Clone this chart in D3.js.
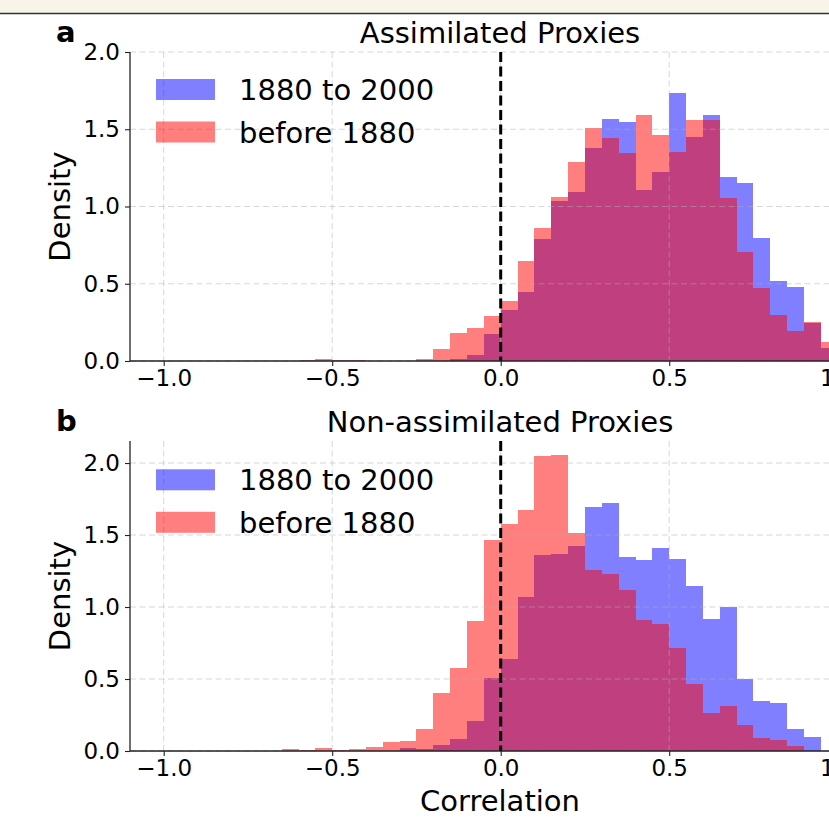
<!DOCTYPE html>
<html>
<head>
  <meta charset="utf-8" />
  <title>Proxy correlations</title>
  <style type="text/css">
    html, body { margin: 0; background: #ffffff; }
    svg { display: block; font-family: "DejaVu Sans", sans-serif; }
  </style>
</head>
<body>
<div id="container"></div>
<script src="https://cdn.jsdelivr.net/npm/d3@7"></script>
<script>
// histogram bins: left edges from -1.0 in steps of 0.05 (40 bins)
var binStart = -1.0;
var binWidth = 0.05;

var seriesNames = ["1880 to 2000", "before 1880"];
var panelTitles = ["Assimilated Proxies", "Non-assimilated Proxies"];
var panelLetters = ["a", "b"];
var xTicks = [-1.0, -0.5, 0.0, 0.5, 1.0];
var yTicks = [0.0, 0.5, 1.0, 1.5, 2.0];

// panel a, density per bin
var assimRecent = [
  0, 0, 0, 0, 0, 0, 0, 0, 0, 0,
  0, 0, 0, 0, 0, 0, 0, 0.013, 0.039, 0.175,
  0.330, 0.447, 0.790, 1.036, 1.094, 1.379, 1.566, 1.547, 1.107, 1.223,
  1.735, 1.450, 1.592, 1.191, 1.152, 0.796, 0.518, 0.479, 0.246, 0.084
];
var assimEarly = [
  0, 0, 0, 0, 0, 0, 0, 0, 0.005, 0.013,
  0.007, 0.007, 0, 0, 0, 0.013, 0.078, 0.181, 0.213, 0.291,
  0.388, 0.647, 0.861, 1.061, 1.288, 1.508, 1.443, 1.346, 1.592, 1.463,
  1.353, 1.560, 1.560, 1.055, 0.705, 0.472, 0.298, 0.194, 0.252, 0.123
];

// panel b, density per bin
var nonAssimRecent = [
  0, 0, 0, 0, 0, 0, 0, 0, 0, 0,
  0, 0, 0, 0, 0.021, 0.014, 0.042, 0.083, 0.208, 0.507,
  0.639, 1.069, 1.361, 1.368, 1.424, 1.694, 1.722, 1.347, 1.326, 1.410,
  1.333, 1.146, 0.917, 1.000, 0.500, 0.347, 0.333, 0.152, 0.096, 0
];
var nonAssimEarly = [
  0, 0, 0, 0, 0, 0, 0, 0.014, 0.007, 0.021,
  0.007, 0.014, 0.028, 0.062, 0.069, 0.153, 0.403, 0.576, 0.903, 1.468,
  1.576, 1.674, 2.049, 2.056, 1.514, 1.257, 1.229, 1.118, 0.910, 0.882,
  0.715, 0.465, 0.264, 0.310, 0.180, 0.089, 0.075, 0.033, 0, 0
];

var yTop = [2.0, 2.153];

var W = 829, H = 817;
var svg = d3.select("#container").append("svg")
    .attr("width", W).attr("height", H);

// page header strip
svg.append("rect").attr("x", 0).attr("y", 0).attr("width", W).attr("height", 13)
    .attr("fill", "#f8f4e9");
svg.append("line").attr("x1", 0).attr("x2", W).attr("y1", 13.5).attr("y2", 13.5)
    .attr("stroke", "#333").attr("stroke-width", 1.6);

var x = d3.scaleLinear().domain([-1.1, 1.1]).range([130, 871.4]);
var fmt = d3.format(".1f");
var colors = ["#0000ff", "#ff0000"];

function drawPanel(idx, top, bottom, recent, early, legendY) {
  var g = svg.append("g");
  var y = d3.scaleLinear().domain([0, yTop[idx]]).range([bottom, top]);

  [recent, early].forEach(function(vals, s) {
    g.append("g").selectAll("rect")
      .data(vals)
      .enter().append("rect")
        .attr("x", function(d, i) { return x(binStart + i * binWidth); })
        .attr("width", function(d, i) { return x(binStart + (i + 1) * binWidth) - x(binStart + i * binWidth); })
        .attr("y", function(d) { return y(d); })
        .attr("height", function(d) { return bottom - y(d); })
        .attr("fill", colors[s])
        .attr("fill-opacity", 0.5)
        .attr("shape-rendering", "crispEdges");
  });

  // grid
  var grid = g.append("g").attr("stroke", "#b0b0b0").attr("stroke-opacity", 0.5)
      .attr("stroke-width", 1).attr("stroke-dasharray", "6,3.5");
  grid.selectAll(".gx").data(xTicks).enter().append("line")
      .attr("x1", function(d) { return x(d); }).attr("x2", function(d) { return x(d); })
      .attr("y1", top).attr("y2", bottom);
  grid.selectAll(".gy").data(yTicks).enter().append("line")
      .attr("x1", x(-1.1)).attr("x2", W)
      .attr("y1", function(d) { return y(d); }).attr("y2", function(d) { return y(d); });

  // zero line
  g.append("line")
      .attr("x1", x(0)).attr("x2", x(0)).attr("y1", top).attr("y2", bottom)
      .attr("stroke", "#000").attr("stroke-width", 3).attr("stroke-dasharray", "10,4.5");

  // axes
  var ax = g.append("g").attr("transform", "translate(0," + bottom + ")")
      .call(d3.axisBottom(x).tickValues(xTicks).tickFormat(fmt).tickSize(5).tickPadding(4));
  var ay = g.append("g").attr("transform", "translate(" + x(-1.1) + ",0)")
      .call(d3.axisLeft(y).tickValues(yTicks).tickFormat(fmt).tickSize(5).tickPadding(5));
  [ax, ay].forEach(function(a) {
    a.select(".domain").attr("stroke", "#222").attr("stroke-width", 1.3);
    a.selectAll(".tick line").attr("stroke", "#222").attr("stroke-width", 1.1);
    a.selectAll("text").attr("font-family", "DejaVu Sans").attr("font-size", 23).attr("fill", "#000");
  });
  ax.select(".domain").attr("d", "M" + x(-1.1) + ",0H" + W);
  ay.select(".domain").attr("d", "M0," + top + "V" + bottom);

  g.append("text").attr("x", 70).attr("y", (top + bottom) / 2)
      .attr("transform", "rotate(-90,70," + ((top + bottom) / 2) + ")")
      .attr("text-anchor", "middle").attr("font-size", 29).text("Density");

  g.append("text").attr("x", 500).attr("y", top - 9)
      .attr("text-anchor", "middle").attr("font-size", 29).text(panelTitles[idx]);
  g.append("text").attr("x", 56).attr("y", top - 10)
      .attr("font-size", 29).attr("font-weight", "bold").text(panelLetters[idx]);

  // legend
  var lg = g.append("g").selectAll("g").data(seriesNames).enter().append("g")
      .attr("transform", function(d, i) { return "translate(156," + (legendY + i * 42.5) + ")"; });
  lg.append("rect").attr("width", 59).attr("height", 21)
      .attr("fill", function(d, i) { return colors[i]; }).attr("fill-opacity", 0.5);
  lg.append("text").attr("x", 83).attr("y", 21).attr("font-size", 29)
      .text(function(d) { return d; });
}

drawPanel(0, 52, 361, assimRecent, assimEarly, 79);
drawPanel(1, 441, 751, nonAssimRecent, nonAssimEarly, 469.3);

svg.append("text").attr("x", 500).attr("y", 811)
    .attr("text-anchor", "middle").attr("font-size", 29).text("Correlation");
</script>
</body>
</html>
